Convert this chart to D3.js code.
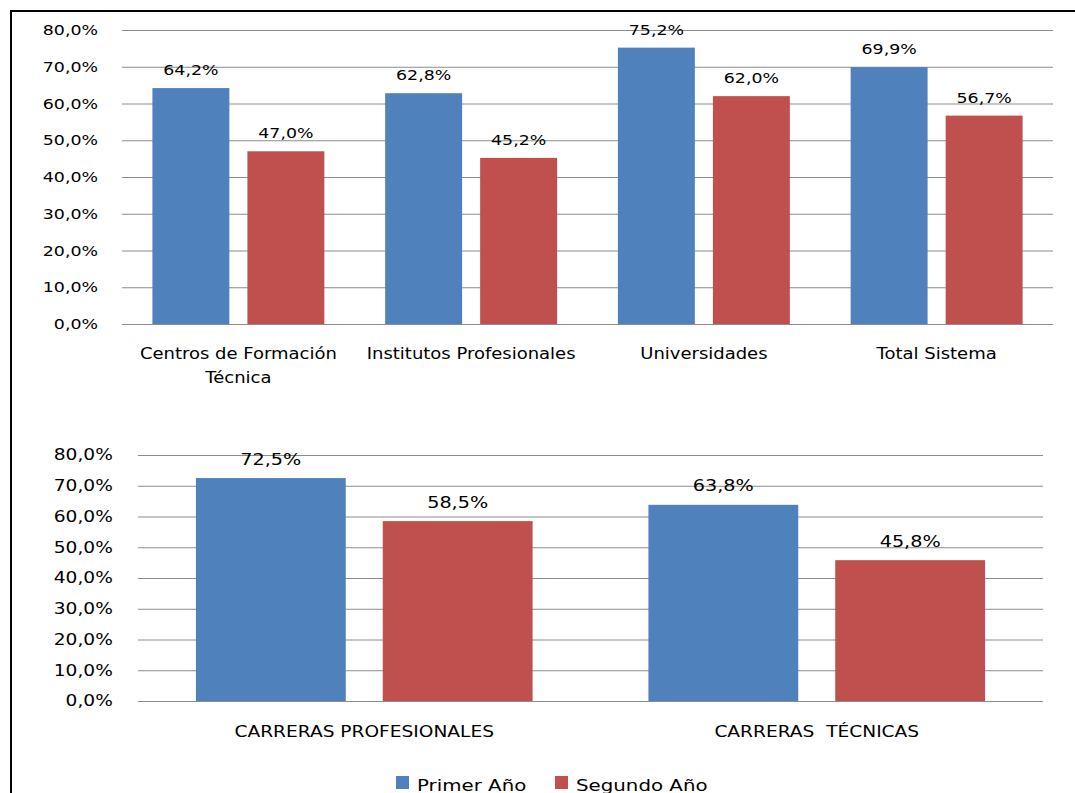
<!DOCTYPE html>
<html>
<head>
<meta charset="utf-8">
<style>
body { margin: 0; background: #fff; }
svg text { font-family: "DejaVu Sans", sans-serif; fill: #000; white-space: pre; }
.grid line { stroke: #8c8c8c; stroke-width: 1; }
.grid .domain { display: none; }
</style>
</head>
<body>
<svg id="chart" width="1075" height="793"></svg>
<script src="https://d3js.org/d3.v7.min.js"></script>
<script>
const series = ["Primer Año", "Segundo Año"];
const colors = ["#4F81BD", "#C0504D"];

// upper chart: by type of institution
const topCategories = [["Centros de Formación", "Técnica"], ["Institutos Profesionales"], ["Universidades"], ["Total Sistema"]];
const topPrimer = [0.642, 0.628, 0.752, 0.699];
const topSegundo = [0.470, 0.452, 0.620, 0.567];

// lower chart: by type of career
const bottomCategories = [["CARRERAS PROFESIONALES"], ["CARRERAS  TÉCNICAS"]];
const bottomPrimer = [0.725, 0.638];
const bottomSegundo = [0.585, 0.458];

const yTicks = [0, 0.1, 0.2, 0.3, 0.4, 0.5, 0.6, 0.7, 0.8];

const es = d3.formatLocale({decimal: ",", thousands: ".", grouping: [3], currency: ["", "€"]});
const pct = es.format(".1%");
const SX = 1.2; // text looks horizontally stretched in the reference

const svg = d3.select("#chart");

// frame
svg.append("line").attr("x1", 11).attr("x2", 1075).attr("y1", 11).attr("y2", 11)
    .attr("stroke", "#000").attr("stroke-width", 2);
svg.append("line").attr("x1", 11).attr("x2", 11).attr("y1", 10).attr("y2", 793)
    .attr("stroke", "#000").attr("stroke-width", 2);

function stretchText(sel, x, y, str, size, anchor) {
    sel.append("text")
        .attr("transform", `translate(${x},${y}) scale(${SX},1)`)
        .attr("text-anchor", anchor || "middle")
        .attr("dy", "0.35em")
        .attr("font-size", size)
        .text(str);
}

function drawChart(opt) {
    const g = svg.append("g");
    const y = d3.scaleLinear().domain([0, 0.8]).range([opt.y0, opt.y1]);
    const x0 = d3.scaleBand().domain(d3.range(opt.cats.length)).range([opt.xl, opt.xr]);
    const x1 = d3.scaleBand().domain(series).range([0, x0.bandwidth()])
        .paddingInner(opt.pin).paddingOuter(opt.pout);

    const axis = d3.axisLeft(y).tickValues(yTicks).tickFormat(pct)
        .tickSize(-(opt.xr - opt.xl)).tickPadding(opt.tp);
    const ag = g.append("g").attr("class", "grid")
        .attr("transform", `translate(${opt.xl},0)`).call(axis);
    ag.selectAll("text")
        .attr("font-size", opt.tickSize)
        .attr("font-family", "DejaVu Sans")
        .attr("fill", "#000")
        .attr("transform", `scale(${SX},1)`);

    const rows = opt.cats.map((c, i) => [opt.a[i], opt.b[i]]);
    const grp = g.selectAll(".grp").data(rows).join("g")
        .attr("transform", (d, i) => `translate(${x0(i)},0)`);
    grp.selectAll("rect").data(d => d.map((v, k) => ({v, k}))).join("rect")
        .attr("x", d => x1(series[d.k]))
        .attr("width", x1.bandwidth())
        .attr("y", d => y(d.v))
        .attr("height", d => y(0) - y(d.v))
        .attr("fill", d => colors[d.k]);
    grp.each(function(d) {
        const gg = d3.select(this);
        d.forEach((v, k) => {
            stretchText(gg, x1(series[k]) + x1.bandwidth() / 2, y(v) - opt.labOff, pct(v), opt.valSize);
        });
    });

    opt.cats.forEach((lines, i) => {
        lines.forEach((ln, j) => {
            stretchText(g, x0(i) + x0.bandwidth() / 2, opt.catY + j * 24, ln, opt.catSize);
        });
    });
}

drawChart({
    cats: topCategories, a: topPrimer, b: topSegundo,
    xl: 122, xr: 1053, y0: 324, y1: 30,
    pin: 0.19, pout: 0.32, tp: 20,
    tickSize: 14.5, valSize: 14.5, catSize: 15, labOff: 18, catY: 354
});

drawChart({
    cats: bottomCategories, a: bottomPrimer, b: bottomSegundo,
    xl: 138, xr: 1043, y0: 701, y1: 455,
    pin: 0.198, pout: 0.31, tp: 21,
    tickSize: 15.5, valSize: 16, catSize: 15.5, labOff: 19, catY: 732
});

// legend
const legX = [396, 555];
const lg = svg.append("g");
series.forEach((s, k) => {
    lg.append("rect").attr("x", legX[k]).attr("y", 776).attr("width", 13).attr("height", 13)
        .attr("fill", colors[k]);
    stretchText(lg, legX[k] + 21, 785, s, 16.5, "start");
});
</script>
</body>
</html>
